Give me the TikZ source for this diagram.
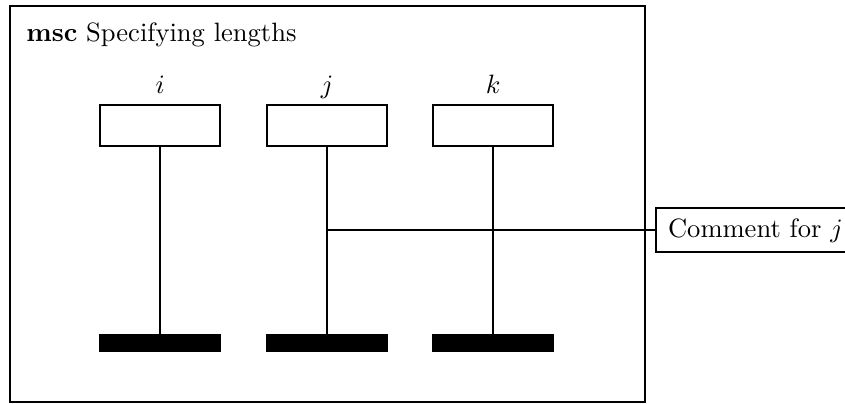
\documentclass[tikz,border=0pt]{standalone}
\usetikzlibrary{positioning}

\tikzset{
  insthead/.style={draw, minimum width=1.59cm, minimum height=0.543cm, inner sep=0pt},
  instfoot/.style={draw, fill=black, minimum width=1.59cm, minimum height=0.21cm, inner sep=0pt},
  commentbox/.style={draw, anchor=west, minimum height=0.583cm, inner xsep=4.5pt, inner ysep=0pt}
}

\begin{document}
\begin{tikzpicture}[line width=0.8pt]
\useasboundingbox (0,0) rectangle (11.19,5.34);

% frame and title
\draw (0.132,0.013) rectangle (8.543,5.265);
\node[anchor=base west, inner sep=0pt] (title) at (0.335,4.795) {\textbf{msc} Specifying lengths};

% instances
\foreach \n/\x in {i/2.12, j/4.33, k/6.53}
 {
   \node[insthead] (head\n) at (\x,3.675) {};
   \node[anchor=base, inner sep=0pt] (name\n) at (\x,4.1) {$\n$};
   \node[instfoot] (foot\n) at (\x,0.795) {};
   \draw (head\n.south) -- (foot\n.north);
 }

% comment on j
\coordinate (cj) at (4.33,2.291);
\node[commentbox] (comment) at (8.675,2.291) {Comment for $j$};
\draw (cj) -- (comment.west);

\end{tikzpicture}
\end{document}
